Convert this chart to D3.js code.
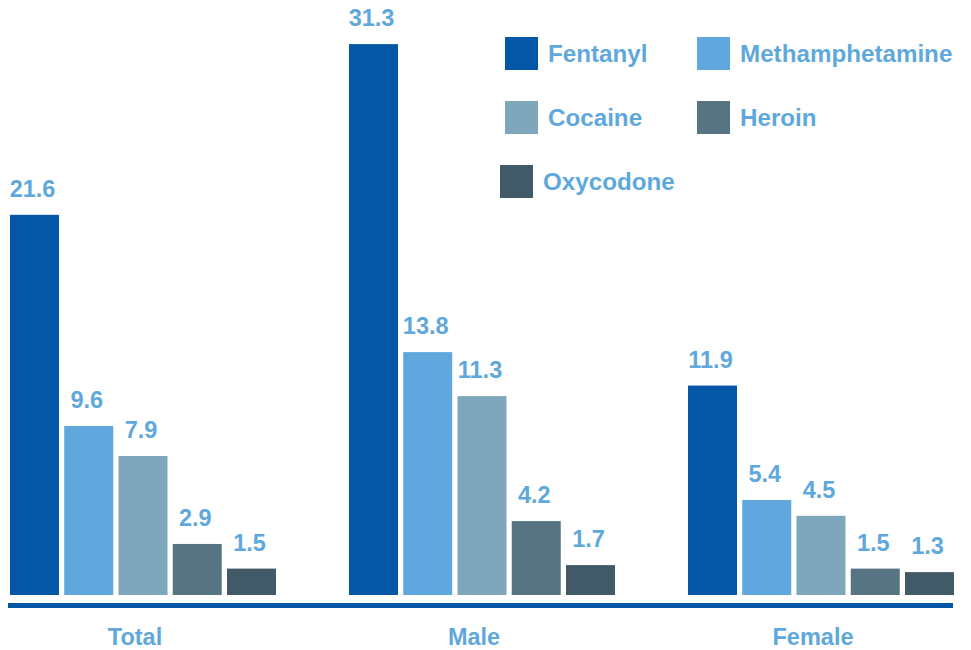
<!DOCTYPE html>
<html>
<head>
<meta charset="utf-8">
<script src="https://cdn.jsdelivr.net/npm/d3@7"></script>
<style>
  html, body { margin: 0; padding: 0; background: #fff; }
  svg { display: block; }
  text { font-family: "Liberation Sans", Arial, Helvetica, sans-serif; font-weight: bold; }
</style>
</head>
<body>
<svg id="chart" width="971" height="650"></svg>
<script>
const categories = ["Total", "Male", "Female"];
const drugs = ["Fentanyl", "Methamphetamine", "Cocaine", "Heroin", "Oxycodone"];
const fentanyl = [21.6, 31.3, 11.9];
const methamphetamine = [9.6, 13.8, 5.4];
const cocaine = [7.9, 11.3, 4.5];
const heroin = [2.9, 4.2, 1.5];
const oxycodone = [1.5, 1.7, 1.3];
const colors = ["#0457a6", "#5fa7dc", "#7fa7bb", "#577482", "#425a67"];

const seriesValues = [fentanyl, methamphetamine, cocaine, heroin, oxycodone];
const data = categories.map((c, i) => ({
  category: c,
  values: drugs.map((d, j) => ({ drug: d, value: seriesValues[j][i], color: colors[j] }))
}));

const svg = d3.select("#chart");
const textColor = "#5fa8dc";
const baseY = 595;

const x0 = d3.scaleBand().domain(categories).range([10, 954]).paddingInner(73 / 339).paddingOuter(0);
const x1 = d3.scaleBand().domain(drugs).range([0, x0.bandwidth()]).paddingInner(0.0968).paddingOuter(0);
const y = d3.scaleLinear().domain([0, 595 / 17.6]).range([baseY, 0]);

const groups = svg.append("g").selectAll("g")
  .data(data).join("g")
  .attr("transform", d => `translate(${x0(d.category)},0)`);

groups.selectAll("rect")
  .data(d => d.values).join("rect")
  .attr("x", d => x1(d.drug))
  .attr("y", d => y(d.value))
  .attr("width", x1.bandwidth())
  .attr("height", d => y(0) - y(d.value))
  .attr("fill", d => d.color);

groups.selectAll("text.val")
  .data(d => d.values).join("text")
  .attr("class", "val")
  .attr("x", d => x1(d.drug) + x1.bandwidth() / 2 - 2)
  .attr("y", d => y(d.value) - 18)
  .attr("text-anchor", "middle")
  .attr("font-size", 23.5)
  .attr("fill", textColor)
  .text(d => d.value.toFixed(1));

// baseline
svg.append("rect")
  .attr("x", 8).attr("y", 603)
  .attr("width", 945).attr("height", 5)
  .attr("fill", "#0457a6");

// category labels
svg.append("g").selectAll("text")
  .data(categories).join("text")
  .attr("x", d => x0(d) + x0.bandwidth() / 2 - 8)
  .attr("y", 645)
  .attr("text-anchor", "middle")
  .attr("font-size", 23.5)
  .attr("fill", textColor)
  .text(d => d);

// legend
const legendPos = [
  { x: 505, y: 37 }, { x: 697, y: 37 },
  { x: 505, y: 101 }, { x: 697, y: 101 },
  { x: 500, y: 165 }
];
const legend = svg.append("g").selectAll("g")
  .data(drugs).join("g")
  .attr("transform", (d, i) => `translate(${legendPos[i].x},${legendPos[i].y})`);
legend.append("rect")
  .attr("width", 33).attr("height", 33)
  .attr("fill", (d, i) => colors[i]);
legend.append("text")
  .attr("x", 43).attr("y", 16.5)
  .attr("dy", "0.35em")
  .attr("font-size", 24.2)
  .attr("fill", textColor)
  .text(d => d);
</script>
</body>
</html>
